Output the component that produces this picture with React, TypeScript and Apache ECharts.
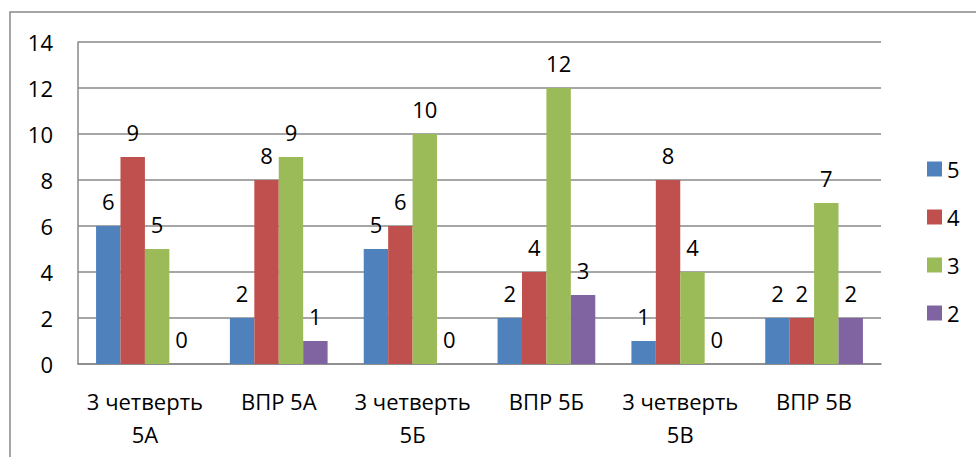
import React, { useEffect, useRef } from "react";
import * as echarts from "echarts";

const categories = ["3 четверть\n5А", "ВПР 5А", "3 четверть\n5Б", "ВПР 5Б", "3 четверть\n5В", "ВПР 5В"];
const seriesNames = ["5", "4", "3", "2"];
const grade5 = [6, 2, 5, 2, 1, 2];
const grade4 = [9, 8, 6, 4, 8, 2];
const grade3 = [5, 9, 10, 12, 4, 7];
const grade2 = [0, 1, 0, 3, 0, 2];
const colors = ["#4F81BD", "#C0504D", "#9BBB59", "#8064A2"];

export default function App() {
  const ref = useRef<HTMLDivElement>(null);
  useEffect(() => {
    if (!ref.current) return;
    const chart = echarts.init(ref.current, null, { renderer: "svg" });
    const font = "Open Sans, Lato, sans-serif";
    const fs = 22;
    const data = [grade5, grade4, grade3, grade2];
    chart.setOption({
      animation: false,
      textStyle: { fontFamily: font },
      graphic: [
        {
          type: "rect",
          shape: { x: 10, y: 12, width: 1000, height: 500 },
          style: { fill: "none", stroke: "#888", lineWidth: 1.5 },
          silent: true,
        },
      ],
      grid: { left: 78, top: 42, right: 95, bottom: 93, containLabel: false },
      legend: {
        orient: "vertical",
        left: 922,
        top: 153,
        itemWidth: 15,
        itemHeight: 15,
        itemGap: 26,
        icon: "rect",
        textStyle: { fontSize: fs, color: "#000", fontFamily: font, padding: [0, 0, 0, 0] },
        data: seriesNames,
      },
      xAxis: {
        type: "category",
        data: categories,
        axisLine: { lineStyle: { color: "#888", width: 1.5 } },
        axisTick: { show: false },
        axisLabel: { interval: 0, fontSize: fs, color: "#000", margin: 20, lineHeight: 33, fontFamily: font },
      },
      yAxis: {
        type: "value",
        min: 0,
        max: 14,
        interval: 2,
        axisLine: { show: true, lineStyle: { color: "#888", width: 1.5 } },
        axisTick: { show: false },
        splitLine: { lineStyle: { color: "#888", width: 1.5 } },
        axisLabel: { fontSize: fs, color: "#000", margin: 25, fontFamily: font },
      },
      series: seriesNames.map((n, i) => ({
        name: n,
        type: "bar",
        data: data[i],
        barGap: "0%",
        barCategoryGap: "27%",
        itemStyle: { color: colors[i] },
        label: { show: true, position: "top", distance: 14, fontSize: fs, color: "#000", fontFamily: font },
      })),
    });
    return () => chart.dispose();
  }, []);
  return <div ref={ref} style={{ position: "fixed", left: 0, top: 0, width: 976, height: 457, background: "#fff" }} />;
}
